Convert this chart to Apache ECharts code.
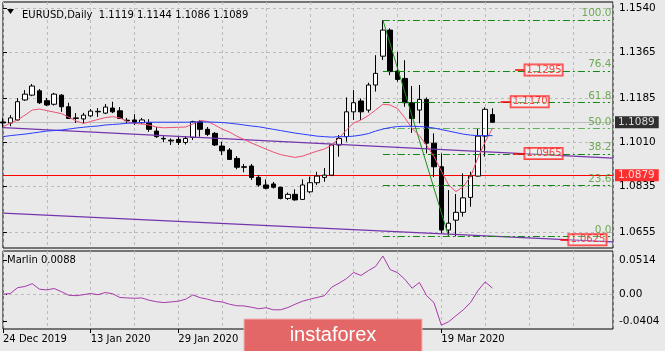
<!DOCTYPE html>
<html lang="en">
<head>
<meta charset="UTF-8">
<title>EURUSD Daily</title>
<script src="https://cdn.jsdelivr.net/npm/echarts@6/dist/echarts.min.js"></script>
<style>
html,body{margin:0;padding:0;background:#e9e9e9;}
#chartBox{width:665px;height:351px;}
</style>
</head>
<body>
<div id="chartBox"></div>
<script>
// daily bars, index 0 = 24 Dec 2019
const opens  = [1.1090,1.1086,1.1098,1.1177,1.1196,1.1213,1.1174,1.1160,1.1196,1.1150,
                1.1106,1.1102,1.1114,1.1130,1.1125,1.1145,1.1134,1.1097,1.1098,1.1087,
                1.1087,1.1054,1.1025,1.1018,1.1021,1.1009,1.1029,1.1091,1.1061,1.1045,
                1.0995,1.0979,1.0946,1.0913,1.0916,1.0871,1.0841,1.0845,1.0832,1.0788,
                1.0804,1.0784,1.0814,1.0850,1.0871,1.0880,1.0999,1.1032,1.1130,1.1173,
                1.1137,1.1236,1.1350,1.1453,1.1291,1.1262,1.1166,1.1137,1.1179,1.1006,
                1.0913,1.0663,1.0702,1.0733,1.0792,1.0876,1.1034,1.1119];
const closes = [1.1086,1.1106,1.1170,1.1200,1.1232,1.1166,1.1157,1.1200,1.1150,1.1104,
                1.1104,1.1117,1.1133,1.1132,1.1149,1.1130,1.1104,1.1095,1.1089,1.1098,
                1.1061,1.1032,1.1023,1.1015,1.1009,1.1025,1.1091,1.1061,1.1041,1.0999,
                1.0976,1.0942,1.0911,1.0911,1.0871,1.0841,1.0828,1.0832,1.0788,1.0804,
                1.0782,1.0841,1.0850,1.0876,1.0880,1.0999,1.1025,1.1130,1.1166,1.1130,
                1.1236,1.1282,1.1453,1.1289,1.1258,1.1166,1.1104,1.1179,1.1006,1.0913,
                1.0663,1.0690,1.0733,1.0790,1.0876,1.1034,1.1140,1.1089];
const lows   = [1.1068,1.1073,1.1094,1.1173,1.1192,1.1161,1.1153,1.1155,1.1130,1.1102,
                1.1086,1.1085,1.1110,1.1110,1.1121,1.1125,1.1102,1.1085,1.1078,1.1082,
                1.1051,1.1027,1.1010,1.0999,1.0999,1.1001,1.1019,1.1032,1.1034,1.0995,
                1.0959,1.0940,1.0903,1.0891,1.0861,1.0834,1.0824,1.0827,1.0784,1.0782,
                1.0779,1.0782,1.0808,1.0841,1.0854,1.0876,1.0953,1.1012,1.1098,1.1098,
                1.1127,1.1210,1.1335,1.1275,1.1249,1.1150,1.1047,1.1085,1.0966,1.0872,
                1.0650,1.0637,1.0638,1.0716,1.0755,1.0874,1.0953,1.1086];
const highs  = [1.1105,1.1117,1.1184,1.1216,1.1240,1.1220,1.1185,1.1205,1.1200,1.1166,
                1.1125,1.1126,1.1141,1.1145,1.1161,1.1170,1.1149,1.1106,1.1121,1.1106,
                1.1101,1.1070,1.1034,1.1025,1.1032,1.1034,1.1095,1.1098,1.1070,1.1050,
                1.1012,1.0987,1.0955,1.0924,1.0924,1.0880,1.0863,1.0853,1.0834,1.0811,
                1.0824,1.0863,1.0874,1.0893,1.0908,1.1002,1.1038,1.1187,1.1216,1.1183,
                1.1245,1.1354,1.1493,1.1460,1.1367,1.1334,1.1232,1.1236,1.1187,1.1045,
                1.0966,1.0821,1.0805,1.0887,1.0893,1.1065,1.1148,1.1144];

// moving averages
const maRed  = [1.1071,1.1085,1.1098,1.1117,1.1137,1.1141,1.1135,1.1129,1.1123,1.1109,
                1.1094,1.1084,1.1092,1.1100,1.1107,1.1111,1.1106,1.1092,1.1084,1.1082,
                1.1078,1.1070,1.1067,1.1068,1.1069,1.1070,1.1082,1.1096,1.1092,1.1078,
                1.1062,1.1050,1.1034,1.1021,1.1007,1.0995,1.0983,1.0971,1.0961,1.0955,
                1.0950,1.0955,1.0965,1.0975,1.0983,1.0999,1.1026,1.1058,1.1086,1.1098,
                1.1115,1.1137,1.1160,1.1157,1.1143,1.1107,1.1064,1.1036,1.0997,1.0953,
                1.0896,1.0841,1.0815,1.0834,1.0874,1.0948,1.1011,1.1065];
const maBlue = [1.1032,1.1036,1.1039,1.1042,1.1046,1.1050,1.1054,1.1056,1.1058,1.1062,
                1.1066,1.1069,1.1072,1.1074,1.1078,1.1080,1.1082,1.1085,1.1086,1.1088,
                1.1089,1.1089,1.1089,1.1089,1.1089,1.1089,1.1089,1.1090,1.1090,1.1089,
                1.1088,1.1085,1.1082,1.1078,1.1074,1.1071,1.1066,1.1061,1.1056,1.1051,
                1.1046,1.1042,1.1038,1.1034,1.1032,1.1030,1.1032,1.1032,1.1034,1.1038,
                1.1044,1.1054,1.1062,1.1068,1.1072,1.1073,1.1073,1.1072,1.1070,1.1066,
                1.1060,1.1054,1.1048,1.1042,1.1038,1.1036,1.1036,1.1036];

// Marlin oscillator
const marlin = [0.0007,0.0016,0.0093,0.0109,0.0146,0.0073,0.0064,0.0082,0.0040,-0.0007,
                -0.0013,0.0000,0.0016,0.0000,0.0029,0.0013,-0.0037,-0.0043,-0.0047,-0.0043,
                -0.0073,-0.0093,-0.0104,-0.0096,-0.0086,-0.0060,-0.0003,-0.0040,-0.0060,-0.0086,
                -0.0096,-0.0126,-0.0146,-0.0149,-0.0166,-0.0186,-0.0173,-0.0200,-0.0200,-0.0170,
                -0.0126,-0.0086,-0.0060,-0.0037,-0.0013,0.0100,0.0153,0.0213,0.0295,0.0255,
                0.0319,0.0375,0.0514,0.0333,0.0293,0.0206,0.0086,0.0162,-0.0013,-0.0106,
                -0.0404,-0.0359,-0.0279,-0.0202,-0.0104,0.0053,0.0170,0.0088];

// axis ticks
const dateTicks  = [0, 12, 24, 36, 48, 60];
const dateLabels = ['24 Dec 2019', '13 Jan 2020', '29 Jan 2020', '14 Feb 2020', '3 Mar 2020', '19 Mar 2020'];
const priceTicks = [1.0655, 1.0835, 1.1010, 1.1185, 1.1365, 1.1540];
const marlinTicks  = [0.0461, 0, -0.0358];
const marlinLabels = ['0.0514', '0.00', '-0.0404'];

// drawn objects
const fiboHigh = 1.1493, fiboLow = 1.0637, fiboFrom = 52, fiboTo = 61, fiboEnd = 83.1;
const fiboLevels = [0, 23.6, 38.2, 50, 61.8, 76.4, 100];
const trendUpper = [[0, 1.1068], [83.5, 1.0947]];
const trendLower = [[0, 1.0730], [83.5, 1.0616]];
const priceTags = [[70.1, 71.4, 1.1295], [68.1, 69.5, 1.1170], [69.9, 71.4, 1.0965], [76.3, 77.4, 1.0625]];
const bidPrice = 1.1089, redLevel = 1.0879;

const X_MAX = 83.5;
const FONT = 'DejaVu Sans';
const GRID_LINE = {show: true, lineStyle: {color: '#bcbcbc', type: [3, 3], width: 1}};

const chartObj = echarts.init(document.getElementById('chartBox'));

const candleData = opens.map((o, i) => [i, o, closes[i], lows[i], highs[i]]);
const toXY = arr => arr.map((v, i) => [i, v]);

let fiboLines = fiboLevels.map(r => {
    let p = fiboLow + (fiboHigh - fiboLow) * r / 100;
    return {coords: [[fiboFrom, p], [fiboEnd, p]],
            lineStyle: {color: r === 50 ? '#5caf5c' : '#118811', type: [7, 3, 2, 3], opacity: 1, width: 1}};
});
fiboLines.push({coords: [[fiboFrom, fiboHigh], [fiboTo, fiboLow]], lineStyle: {color: '#1a8f1a', type: 'solid', opacity: 1, width: 1}});

let fiboText = fiboLevels.map(r => ({value: [83.3, fiboLow + (fiboHigh - fiboLow) * r / 100], name: r.toFixed(1)}));

let trendLines = [trendUpper, trendLower].map(c => ({coords: c, lineStyle: {color: '#7434ad', width: 1.3, opacity: 1}}));
let tagLines = priceTags.map(t => ({coords: [[t[0], t[2]], [t[1], t[2]]], lineStyle: {color: '#ff0000', width: 1.5, opacity: 1}}));

let last = opens.length - 1;
let titleText = 'EURUSD,Daily  ' + [opens[last], highs[last], lows[last], closes[last]].map(v => v.toFixed(4)).join(' ');

let option = {
    backgroundColor: '#e9e9e9',
    animation: false,
    textStyle: {fontFamily: FONT},
    grid: [
        {left: 3, right: 52, top: 2, height: 246, show: true, borderColor: '#000', borderWidth: 1},
        {left: 3, right: 52, top: 251, height: 78, show: true, borderColor: '#000', borderWidth: 1}
    ],
    xAxis: [
        {gridIndex: 0, type: 'value', min: 0, max: X_MAX, interval: 6,
         axisLine: {show: false}, axisTick: {show: false}, axisLabel: {show: false}, splitLine: GRID_LINE},
        {gridIndex: 1, type: 'value', min: 0, max: X_MAX, interval: 6, position: 'top',
         axisLine: {show: false}, axisTick: {show: false}, axisLabel: {show: false}, splitLine: GRID_LINE},
        {gridIndex: 1, type: 'value', min: 0, max: X_MAX, position: 'bottom',
         axisLine: {show: false}, splitLine: {show: false},
         axisTick: {show: true, customValues: dateTicks, length: 4, lineStyle: {color: '#000'}},
         axisLabel: {customValues: dateTicks, formatter: v => dateLabels[dateTicks.indexOf(v)] || '',
                     align: 'left', margin: 5, color: '#000', fontSize: 10, fontFamily: FONT}}
    ],
    yAxis: [
        {gridIndex: 0, type: 'value', position: 'right', min: 1.0592, max: 1.1564,
         axisLine: {show: false},
         axisTick: {show: true, customValues: priceTicks, length: 4, lineStyle: {color: '#000'}},
         axisLabel: {customValues: priceTicks, formatter: v => v.toFixed(4), margin: 6,
                     color: '#000', fontSize: 10.5, fontFamily: FONT},
         splitLine: GRID_LINE},
        {gridIndex: 1, type: 'value', position: 'right', min: -0.0455, max: 0.058,
         axisLine: {show: false}, splitLine: {show: false},
         axisTick: {show: true, customValues: marlinTicks, length: 4, lineStyle: {color: '#000'}},
         axisLabel: {customValues: marlinTicks, formatter: v => marlinLabels[marlinTicks.indexOf(v)] || '',
                     margin: 6, color: '#000', fontSize: 10.5, fontFamily: FONT}}
    ],
    title: {
        text: titleText, left: 17, top: 5,
        textStyle: {fontSize: 10, fontWeight: 'normal', color: '#000', fontFamily: FONT}
    },
    graphic: [
        {type: 'polygon', shape: {points: [[7, 9], [14, 9], [10.5, 14]]}, style: {fill: '#000'}},
        {type: 'text', left: 7, top: 255,
         style: {text: 'Marlin ' + marlin[last].toFixed(4), fill: '#000', font: '10px DejaVu Sans'}},
        // watermark
        {type: 'rect', zlevel: 2, z: 100, shape: {x: 244, y: 319, width: 178, height: 34},
         style: {fill: '#e36767', stroke: '#f3b3b3', lineWidth: 1}},
        {type: 'text', zlevel: 2, z: 101, x: 333, y: 335,
         style: {text: 'instaforex', fill: '#fff', font: '20px Liberation Sans', align: 'center', verticalAlign: 'middle'}}
    ],
    series: [
        {
            type: 'lines', coordinateSystem: 'cartesian2d', xAxisIndex: 0, yAxisIndex: 0, z: 1,
            silent: true,
            data: [
                {coords: [[0, bidPrice], [X_MAX, bidPrice]], lineStyle: {color: '#bdbdbd', width: 1, opacity: 1}},
                {coords: [[0, redLevel], [X_MAX, redLevel]], lineStyle: {color: '#ff0000', width: 1, opacity: 1}}
            ]
        },
        {
            type: 'candlestick', xAxisIndex: 0, yAxisIndex: 0, z: 2,
            data: candleData,
            encode: {x: 0, y: [1, 2, 3, 4]},
            barWidth: 5,
            itemStyle: {color: '#ffffff', color0: '#000000', borderColor: '#000000', borderColor0: '#000000', borderWidth: 1}
        },
        {
            type: 'line', xAxisIndex: 0, yAxisIndex: 0, z: 3, data: toXY(maRed),
            showSymbol: false, lineStyle: {color: '#ee5072', width: 1}
        },
        {
            type: 'line', xAxisIndex: 0, yAxisIndex: 0, z: 3, data: toXY(maBlue),
            showSymbol: false, lineStyle: {color: '#2a3cff', width: 1}
        },
        {
            type: 'lines', coordinateSystem: 'cartesian2d', xAxisIndex: 0, yAxisIndex: 0, z: 3,
            silent: true, data: trendLines.concat(fiboLines, tagLines)
        },
        {
            type: 'scatter', xAxisIndex: 0, yAxisIndex: 0, z: 4, symbolSize: 0, clip: false,
            data: fiboText,
            label: {show: true, position: 'top', align: 'right', distance: 1, formatter: p => p.name,
                    color: '#4f9a2f', fontSize: 10.5, fontFamily: FONT}
        },
        {
            type: 'scatter', xAxisIndex: 0, yAxisIndex: 0, z: 4, symbolSize: 0, clip: false,
            data: priceTags.map(t => [t[1], t[2]]),
            label: {show: true, position: 'right', distance: 0, formatter: p => p.value[1].toFixed(4),
                    color: '#ff1a1a', fontSize: 10, fontFamily: FONT,
                    backgroundColor: 'rgba(255,255,255,0.35)', borderColor: '#ff1a1a', borderWidth: 1,
                    padding: [1, 1, 0, 2]}
        },
        {
            type: 'scatter', xAxisIndex: 0, yAxisIndex: 0, z: 5, symbolSize: 0, clip: false,
            data: [
                {value: [X_MAX, bidPrice], label: {backgroundColor: '#000'}},
                {value: [X_MAX, redLevel], label: {backgroundColor: '#ff0000'}}
            ],
            label: {show: true, position: 'right', distance: 2, formatter: p => p.value[1].toFixed(4),
                    color: '#fff', fontSize: 10.5, fontFamily: FONT, padding: [1, 4, 0, 3]}
        },
        {
            type: 'lines', coordinateSystem: 'cartesian2d', xAxisIndex: 1, yAxisIndex: 1, z: 1,
            silent: true,
            data: [{coords: [[0, 0], [X_MAX, 0]], lineStyle: {color: '#bcbcbc', type: [3, 3], width: 1, opacity: 1}}]
        },
        {
            type: 'line', xAxisIndex: 1, yAxisIndex: 1, z: 3, data: toXY(marlin),
            showSymbol: false, lineStyle: {color: '#a63aa9', width: 1}
        }
    ]
};

chartObj.setOption(option);
</script>
</body>
</html>
